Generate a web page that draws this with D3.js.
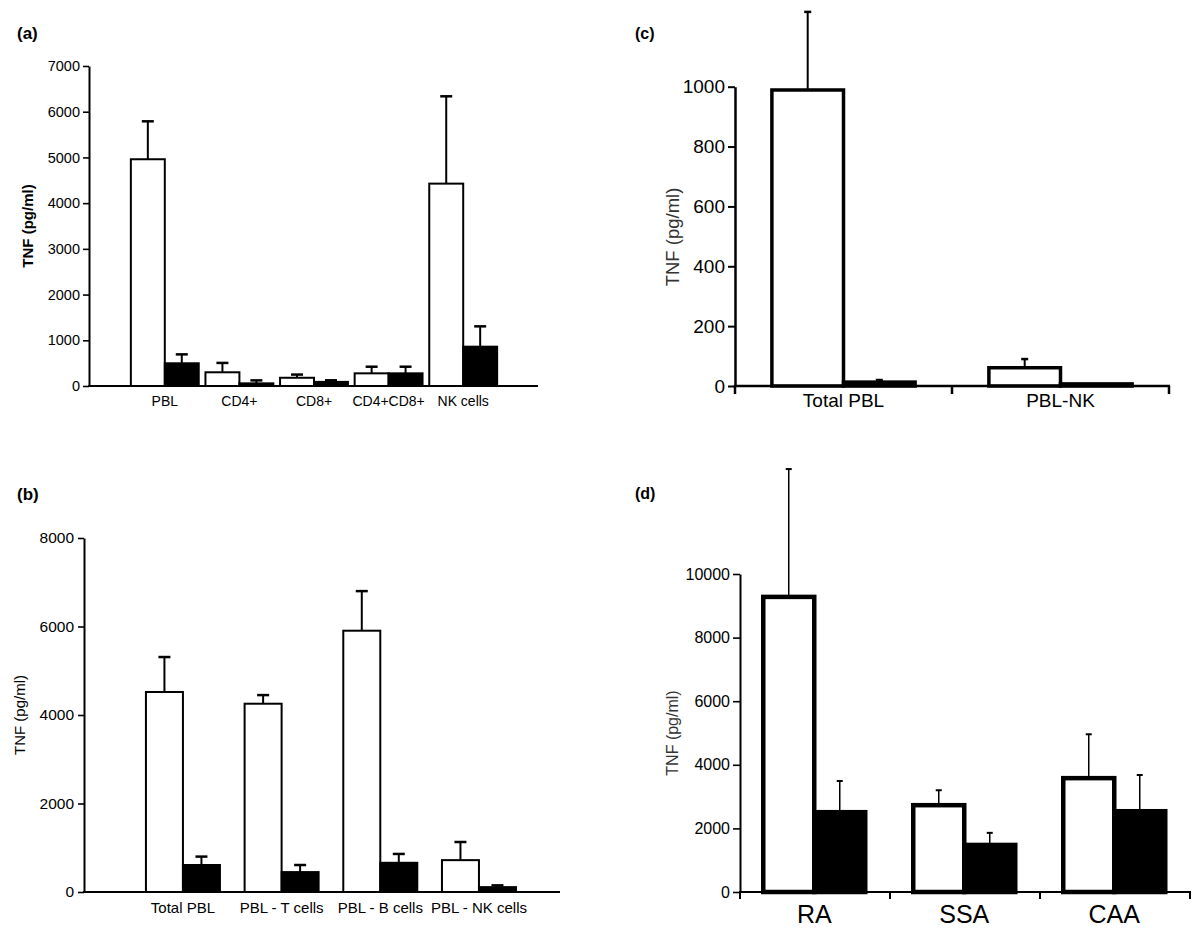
<!DOCTYPE html>
<html>
<head>
<meta charset="utf-8">
<script src="https://cdn.jsdelivr.net/npm/d3@7"></script>
<style>
  html, body { margin: 0; padding: 0; background: #fff; }
  svg { display: block; }
  text { font-family: "Liberation Sans", Arial, sans-serif; fill: #000; }
</style>
</head>
<body>
<svg id="chart" width="1200" height="937"></svg>
<script>
// ---------- DATA ----------
// Panel (a)
const catsA = ["PBL", "CD4+", "CD8+", "CD4+CD8+", "NK cells"];
const whiteA = [4960, 300, 180, 277, 4427];
const whiteErrA = [830, 205, 70, 145, 1910];
const blackA = [497, 58, 90, 277, 860];
const blackErrA = [195, 65, 35, 145, 445];
const ticksA = [0, 1000, 2000, 3000, 4000, 5000, 6000, 7000];

// Panel (b)
const catsB = ["Total PBL", "PBL - T cells", "PBL - B cells", "PBL - NK cells"];
const whiteB = [4520, 4255, 5905, 720];
const whiteErrB = [790, 195, 895, 410];
const blackB = [610, 450, 660, 110];
const blackErrB = [190, 160, 200, 40];
const ticksB = [0, 2000, 4000, 6000, 8000];

// Panel (c)
const catsC = ["Total PBL", "PBL-NK"];
const whiteC = [989, 61];
const whiteErrC = [261, 29];
const blackC = [13, 7];
const blackErrC = [7, 0];
const ticksC = [0, 200, 400, 600, 800, 1000];

// Panel (d)
const catsD = ["RA", "SSA", "CAA"];
const whiteD = [9280, 2730, 3580];
const whiteErrD = [4020, 470, 1380];
const blackD = [2510, 1480, 2540];
const blackErrD = [980, 380, 1140];
const ticksD = [0, 2000, 4000, 6000, 8000, 10000];

const series = ["white", "black"];

// ---------- DRAW ----------
const svg = d3.select("#chart");
const FONT = '"Liberation Sans", Arial, sans-serif';

function drawPanel(cfg, cats, white, whiteErr, black, blackErr, ticks) {
  const g = svg.append("g");
  const yMax = ticks[ticks.length - 1];
  const y = d3.scaleLinear().domain([0, yMax]).range([cfg.y0, cfg.yTop]);
  const x0 = d3.scaleBand().domain(cats).range(cfg.xRange)
    .paddingInner(cfg.padIn).paddingOuter(cfg.padOut);
  const bw = x0.bandwidth();
  const x1 = d3.scaleBand().domain(series)
    .range([bw * cfg.sub[0], bw * cfg.sub[1]]);

  const rows = [];
  cats.forEach((c, i) => {
    rows.push({ cat: c, s: "white", v: white[i], e: whiteErr[i] });
    rows.push({ cat: c, s: "black", v: black[i], e: blackErr[i] });
  });

  // error bars
  const eb = g.append("g");
  rows.forEach(r => {
    if (r.e <= 0) return;
    const cx = x0(r.cat) + x1(r.s) + x1.bandwidth() / 2;
    eb.append("line")
      .attr("x1", cx).attr("x2", cx)
      .attr("y1", y(r.v)).attr("y2", y(r.v + r.e))
      .attr("stroke", "#000").attr("stroke-width", cfg.errW);
    eb.append("line")
      .attr("x1", cx - cfg.cap / 2).attr("x2", cx + cfg.cap / 2)
      .attr("y1", y(r.v + r.e)).attr("y2", y(r.v + r.e))
      .attr("stroke", "#000").attr("stroke-width", cfg.errW + 0.5);
  });

  // bars
  g.append("g").selectAll("rect")
    .data(rows.filter(r => r.s === "white").concat(rows.filter(r => r.s === "black")))
    .join("rect")
    .attr("x", r => x0(r.cat) + x1(r.s))
    .attr("width", x1.bandwidth())
    .attr("y", r => y(r.v))
    .attr("height", r => y(0) - y(r.v))
    .attr("fill", r => r.s === "white" ? "#fff" : "#000")
    .attr("stroke", "#000")
    .attr("stroke-width", cfg.barW);

  // y axis
  const ay = g.append("g")
    .attr("transform", `translate(${cfg.xAxis},0)`)
    .call(d3.axisLeft(y).tickValues(ticks).tickFormat(d3.format("d"))
      .tickSize(cfg.tick).tickPadding(cfg.tickPad).tickSizeOuter(0));
  ay.select(".domain").attr("stroke-width", cfg.axisW);
  ay.selectAll(".tick line").attr("stroke-width", cfg.axisW * 0.8);
  ay.selectAll(".tick text")
    .style("font-family", FONT)
    .style("font-size", cfg.tickFont + "px").attr("fill", "#000");

  // x axis line
  g.append("line")
    .attr("x1", cfg.xAxis - cfg.axisW / 2).attr("x2", cfg.xEnd)
    .attr("y1", cfg.y0).attr("y2", cfg.y0)
    .attr("stroke", "#000").attr("stroke-width", cfg.axisW);

  if (cfg.xTicks) {
    const step = x0.step();
    const edges = [x0(cats[0])];
    cats.forEach(c => edges.push(x0(c) + step));
    edges.forEach(ex => {
      g.append("line")
        .attr("x1", ex).attr("x2", ex)
        .attr("y1", cfg.y0).attr("y2", cfg.y0 + cfg.xTicks)
        .attr("stroke", "#000").attr("stroke-width", cfg.axisW);
    });
  }

  // category labels
  g.append("g").selectAll("text").data(cats).join("text")
    .attr("x", c => x0(c) + x1("black"))
    .attr("y", cfg.labY)
    .attr("text-anchor", "middle")
    .style("font-size", cfg.labFont + "px")
    .text(c => c);

  // y title
  g.append("text")
    .attr("transform", `translate(${cfg.titleX},${cfg.titleY}) rotate(-90)`)
    .attr("text-anchor", "middle")
    .attr("dominant-baseline", "middle")
    .style("font-size", cfg.titleFont + "px")
    .style("font-weight", cfg.titleBold ? "bold" : "normal")
    .style("fill", cfg.titleColor)
    .text("TNF (pg/ml)");

  // panel letter
  g.append("text")
    .attr("x", cfg.letterX).attr("y", cfg.letterY)
    .style("font-size", cfg.letterFont + "px")
    .style("font-weight", "bold")
    .text(cfg.letter);
}

drawPanel({
  letter: "(a)", letterX: 17, letterY: 39, letterFont: 17,
  y0: 386, yTop: 66, xAxis: 89, xEnd: 538,
  xRange: [127.5, 500.5], padIn: 0.09, padOut: 0.045, sub: [0, 1],
  barW: 2, errW: 2, cap: 12, axisW: 2, tick: 6, tickPad: 3, tickFont: 14.5,
  labY: 406, labFont: 14,
  titleX: 29, titleY: 226, titleFont: 15, titleBold: true, titleColor: "#000",
  xTicks: 0
}, catsA, whiteA, whiteErrA, blackA, blackErrA, ticksA);

drawPanel({
  letter: "(b)", letterX: 17, letterY: 500, letterFont: 17,
  y0: 892, yTop: 538, xAxis: 84, xEnd: 560,
  xRange: [133.6, 528.3], padIn: 0.25, padOut: 0.125, sub: [0, 1],
  barW: 2, errW: 2, cap: 12, axisW: 2, tick: 6, tickPad: 4, tickFont: 15.5,
  labY: 913, labFont: 15,
  titleX: 21, titleY: 715, titleFont: 15, titleBold: false, titleColor: "#000",
  xTicks: 0
}, catsB, whiteB, whiteErrB, blackB, blackErrB, ticksB);

drawPanel({
  letter: "(c)", letterX: 635, letterY: 39, letterFont: 16,
  y0: 386, yTop: 86.7, xAxis: 735, xEnd: 1170,
  xRange: [735, 1169], padIn: 0, padOut: 0, sub: [0.17, 0.83],
  barW: 3.5, errW: 2, cap: 7, axisW: 2.5, tick: 7, tickPad: 3, tickFont: 19,
  labY: 407, labFont: 19,
  titleX: 674, titleY: 237, titleFont: 18.5, titleBold: false, titleColor: "#333",
  xTicks: 8
}, catsC, whiteC, whiteErrC, blackC, blackErrC, ticksC);

drawPanel({
  letter: "(d)", letterX: 635, letterY: 499, letterFont: 16,
  y0: 892, yTop: 574, xAxis: 740, xEnd: 1191,
  xRange: [740, 1190], padIn: 0, padOut: 0, sub: [0.155, 0.835],
  barW: 4.5, errW: 1.5, cap: 6, axisW: 2, tick: 7, tickPad: 3, tickFont: 16,
  labY: 923, labFont: 25,
  titleX: 674, titleY: 733, titleFont: 16, titleBold: false, titleColor: "#333",
  xTicks: 7
}, catsD, whiteD, whiteErrD, blackD, blackErrD, ticksD);
</script>
</body>
</html>
